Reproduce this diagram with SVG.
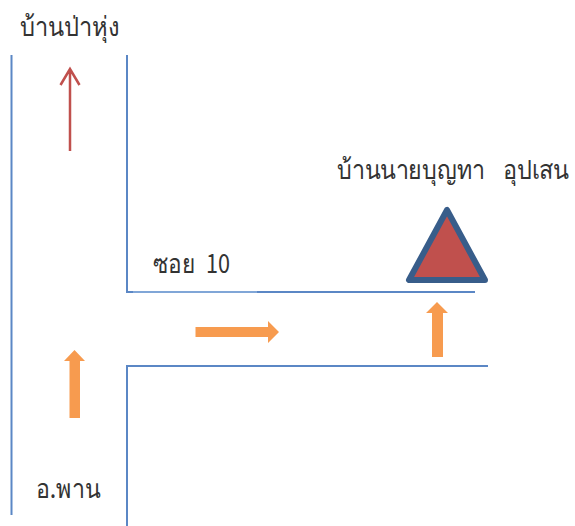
<svg xmlns="http://www.w3.org/2000/svg" width="575" height="526" viewBox="0 0 575 526">
<style>
.road{fill:none;stroke:#5b87c5;stroke-width:2}
.block{fill:#f79646;fill-opacity:.95}
text{font-family:"Noto Sans CJK SC","Noto Sans","Liberation Sans",sans-serif;font-size:27px;fill:#333}
</style>
<rect width="575" height="526" fill="#fff"/>
<g id="connectors">
<path class="road" d="M11.500 55V515"/>
<path class="road" d="M127 55V292H475"/>
<path d="M133 292H257" fill="none" stroke="#8db0dc" stroke-width="1.500"/>
<path class="road" d="M127 526V366H488"/>
<path d="M70 151V69M60.500 85L70 69L79.500 85" fill="none" stroke="#c0504d" stroke-width="2.500"/>
</g>
<g id="arrow-left"><path class="block" d="M69.500 418V361H64L74.500 350L85 361H80V418Z"/></g>
<g id="arrow-mid"><path class="block" d="M195.500 327H268V321L279 332L268 343V337H195.500Z"/></g>
<g id="arrow-right"><path class="block" d="M432 357V313H426L437 302L448 313H443V357Z"/></g>
<g id="triangle"><path d="M447 210L409 280H485Z" fill="#c0504d" stroke="#385d8a" stroke-width="6" stroke-linejoin="round"/></g>
<g id="label-top"><text x="20" y="36" textLength="99" lengthAdjust="spacingAndGlyphs">บ้านป่าหุ่ง</text></g>
<g id="label-house"><text x="337" y="179" textLength="148" lengthAdjust="spacingAndGlyphs">บ้านนายบุญทา</text><text x="503" y="179" textLength="66" lengthAdjust="spacingAndGlyphs">อุปเสน</text></g>
<g id="label-soi"><text x="153" y="273" textLength="42" lengthAdjust="spacingAndGlyphs">ซอย</text><text x="206" y="273" textLength="24" lengthAdjust="spacingAndGlyphs">10</text></g>
<g id="label-phan"><text x="36" y="498" textLength="64" lengthAdjust="spacingAndGlyphs">อ.พาน</text></g>
</svg>
